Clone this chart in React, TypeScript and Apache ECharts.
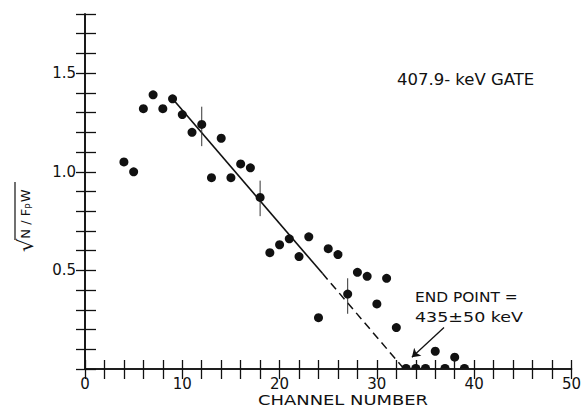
import React, { useEffect, useRef } from "react";
import * as echarts from "echarts";

// Data
const channels = [4, 5, 6, 7, 8, 9, 10, 11, 12, 13, 14, 15, 16, 17, 18, 19, 20, 21, 22, 23, 24, 25, 26, 27, 28, 29, 30, 31, 32, 33, 34, 35, 36, 37, 38, 39];
const values = [1.05, 1.0, 1.32, 1.39, 1.32, 1.37, 1.29, 1.2, 1.24, 0.97, 1.17, 0.97, 1.04, 1.02, 0.87, 0.59, 0.63, 0.66, 0.57, 0.67, 0.26, 0.61, 0.58, 0.38, 0.49, 0.47, 0.33, 0.46, 0.21, 0, 0, 0, 0.09, 0, 0.06, 0];

const errChannels = [12, 18, 27];
const errCenters = [1.23, 0.865, 0.37];
const errHalf = [0.1, 0.09, 0.09];

const fitSolidX = [9, 24.4];
const fitSolidY = [1.37, 0.485];
const fitDashedX = [24.4, 32.8];
const fitDashedY = [0.485, 0];

const arrowFrom = [36.9, 0.21];
const arrowTo = [33.6, 0.06];

const xTickLabels = [0, 10, 20, 30, 40, 50];
const yTickLabels = ["0.5", "1.0", "1.5"];

const INK = "#111";
const FONT = "DejaVu Sans";

export default function App() {
  const ref = useRef<HTMLDivElement>(null);
  useEffect(() => {
    if (!ref.current) return;
    const chart = echarts.init(ref.current, null, { renderer: "svg" });
    const points = channels.map((c, i) => [c, values[i]]);
    const nonZero = points.filter((p) => p[1] > 0);
    const zeros = points.filter((p) => p[1] === 0);

    const axisCommon = {
      axisLine: { show: true, lineStyle: { color: INK, width: 1.6 } },
      splitLine: { show: false },
    };

    const option: any = {
      animation: false,
      backgroundColor: "#fff",
      grid: { left: 85, right: 11, top: 14, bottom: 43 },
      xAxis: [
        {
          type: "value",
          min: 0,
          max: 50,
          interval: 2,
          position: "bottom",
          ...axisCommon,
          axisTick: { show: true, inside: true, length: 9, lineStyle: { color: INK, width: 1.3 } },
          axisLabel: {
            showMinLabel: true,
            showMaxLabel: true,
            margin: 7,
            color: INK,
            fontSize: 15,
            fontFamily: FONT,
            formatter: (v: number) => (xTickLabels.indexOf(Math.round(v)) >= 0 && Math.abs(v - Math.round(v)) < 1e-6 ? String(Math.round(v)) : ""),
          },
        },
        {
          type: "value",
          min: 0,
          max: 50,
          interval: 2,
          position: "top",
          ...axisCommon,
          axisTick: { show: true, inside: true, length: 10, lineStyle: { color: INK, width: 1.3 } },
          axisLabel: { show: false },
        },
      ],
      yAxis: [
        {
          type: "value",
          min: 0,
          max: 1.8,
          interval: 0.1,
          position: "left",
          ...axisCommon,
          axisTick: { show: true, inside: true, length: 11, lineStyle: { color: INK, width: 1.3 } },
          axisLabel: {
            margin: 9,
            color: INK,
            fontSize: 15,
            fontFamily: FONT,
            formatter: (v: number) => {
              const s = (Math.round(v * 10) / 10).toFixed(1);
              return yTickLabels.indexOf(s) >= 0 ? s : "";
            },
          },
        },
        {
          type: "value",
          min: 0,
          max: 1.8,
          interval: 0.1,
          position: "right",
          ...axisCommon,
          axisTick: { show: true, inside: true, length: 9, lineStyle: { color: INK, width: 1.3 } },
          axisLabel: { show: false },
        },
      ],
      series: [
        {
          type: "line",
          data: fitSolidX.map((x, i) => [x, fitSolidY[i]]),
          showSymbol: false,
          symbol: "none",
          lineStyle: { color: INK, width: 1.6 },
          z: 2,
        },
        {
          type: "line",
          data: fitDashedX.map((x, i) => [x, fitDashedY[i]]),
          showSymbol: false,
          symbol: "none",
          lineStyle: { color: INK, width: 1.5, type: [8, 5] },
          z: 2,
        },
        {
          type: "custom",
          data: errChannels.map((c, i) => [c, errCenters[i] - errHalf[i], errCenters[i] + errHalf[i]]),
          renderItem: (params: any, api: any) => {
            const p1 = api.coord([api.value(0), api.value(1)]);
            const p2 = api.coord([api.value(0), api.value(2)]);
            return {
              type: "line",
              shape: { x1: p1[0], y1: p1[1], x2: p2[0], y2: p2[1] },
              style: { stroke: "#333", lineWidth: 1 },
            };
          },
          z: 3,
        },
        {
          type: "scatter",
          data: nonZero,
          symbol: "circle",
          symbolSize: 9,
          itemStyle: { color: INK, opacity: 1 },
          z: 4,
        },
        {
          type: "custom",
          data: zeros,
          renderItem: (params: any, api: any) => {
            const p = api.coord([api.value(0), api.value(1)]);
            return {
              type: "sector",
              shape: { cx: p[0], cy: p[1] - 0.5, r: 4.6, r0: 0, startAngle: Math.PI, endAngle: Math.PI * 2, clockwise: true },
              style: { fill: INK },
            };
          },
          z: 4,
        },
        {
          type: "lines",
          coordinateSystem: "cartesian2d",
          data: [{ coords: [arrowFrom, arrowTo] }],
          symbol: ["none", "arrow"],
          symbolSize: 8,
          lineStyle: { color: INK, width: 1.3, opacity: 1 },
          z: 5,
        },
      ],
      graphic: [
        {
          type: "text",
          x: 397,
          y: 80,
          scaleX: 1.1,
          style: {
            text: "407.9- keV GATE",
            font: `15px "${FONT}"`,
            fill: INK,
            align: "left",
            textAlign: "left",
            verticalAlign: "middle",
            textVerticalAlign: "middle",
          },
        },
        {
          type: "text",
          x: 415,
          y: 297,
          scaleX: 1.1,
          style: {
            text: "END POINT =",
            font: `14px "${FONT}"`,
            fill: INK,
            align: "left",
            textAlign: "left",
            verticalAlign: "middle",
            textVerticalAlign: "middle",
          },
        },
        {
          type: "text",
          x: 415,
          y: 317,
          scaleX: 1.25,
          style: {
            text: "435±50 keV",
            font: `14px "${FONT}"`,
            fill: INK,
            align: "left",
            textAlign: "left",
            verticalAlign: "middle",
            textVerticalAlign: "middle",
          },
        },
        {
          type: "text",
          x: 343,
          y: 400,
          scaleX: 1.28,
          style: {
            text: "CHANNEL NUMBER",
            font: `14px "${FONT}"`,
            fill: INK,
            align: "center",
            textAlign: "center",
            verticalAlign: "middle",
            textVerticalAlign: "middle",
          },
        },
        {
          type: "group",
          x: 25,
          y: 252,
          rotation: Math.PI / 2,
          children: [
            {
              type: "text",
              x: 0,
              y: 0,
              style: {
                text: "{r|√}{t|N / F}{s|P}{t|W}",
                fill: INK,
                align: "left",
                textAlign: "left",
                verticalAlign: "middle",
                textVerticalAlign: "middle",
                rich: {
                  r: { fontSize: 21, fontFamily: FONT, fill: INK, lineHeight: 22, verticalAlign: "bottom" },
                  t: { fontSize: 13, fontFamily: FONT, fill: INK, lineHeight: 22, verticalAlign: "middle" },
                  s: { fontSize: 9, fontFamily: FONT, fill: INK, lineHeight: 22, verticalAlign: "bottom", padding: [0, 1, 3, 0] },
                },
              },
            },
            {
              type: "line",
              shape: { x1: 12, y1: -10, x2: 70, y2: -10 },
              style: { stroke: INK, lineWidth: 1.2 },
            },
          ],
        },
      ],
    };
    chart.setOption(option);
    return () => chart.dispose();
  }, []);
  return <div ref={ref} style={{ position: "fixed", left: 0, top: 0, width: 584, height: 412 }} />;
}
